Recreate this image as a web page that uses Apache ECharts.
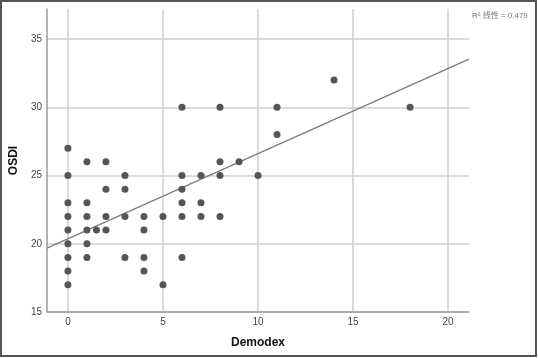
<!DOCTYPE html>
<html>
<head>
<meta charset="utf-8">
<script src="https://cdn.jsdelivr.net/npm/echarts@6/dist/echarts.min.js"></script>
<style>
  html, body { margin: 0; padding: 0; background: #fff; }
  #chart { width: 538px; height: 358px; }
</style>
</head>
<body>
<div id="chart"></div>
<script>
// Demodex count vs OSDI score, one entry per subject
const demodex = [
  0, 0, 0, 0, 0, 0, 0, 0, 0,
  1, 1, 1, 1, 1, 1,
  1.5,
  2, 2, 2, 2,
  3, 3, 3, 3,
  4, 4, 4, 4,
  5, 5,
  6, 6, 6, 6, 6, 6,
  7, 7, 7,
  8, 8, 8, 8,
  9, 10, 11, 11, 14, 18
]
const osdi = [
  27, 25, 23, 22, 21, 20, 19, 18, 17,
  26, 23, 22, 21, 20, 19,
  21,
  26, 24, 22, 21,
  25, 24, 22, 19,
  22, 21, 19, 18,
  22, 17,
  30, 25, 24, 23, 22, 19,
  25, 23, 22,
  30, 26, 25, 22,
  26, 25, 30, 28, 32, 30
]
// fitted line, read at the plot edges
const fitX = [-1.1, 21.1]
const fitY = [19.68, 33.53]

const xTicks = [0, 5, 10, 15, 20]
const yTicks = [15, 20, 25, 30, 35]
const r2Text = 'R² 线性 = 0.479'

const points = demodex.map((d, i) => [d, osdi[i]])
const fitLine = fitX.map((d, i) => [d, fitY[i]])

const chart = echarts.init(document.getElementById('chart'))

const tickLabel = { color: '#444', fontSize: 10, fontFamily: 'Liberation Sans, Arial, sans-serif' }
const nameStyle = { color: '#111', fontSize: 12, fontWeight: 'bold', fontFamily: 'Liberation Sans, Arial, sans-serif' }

chart.setOption({
  animation: false,
  grid: { left: 44, right: 69, top: 9, bottom: 46 },
  xAxis: {
    type: 'value',
    min: -1.1,
    max: 21.1,
    name: 'Demodex',
    nameLocation: 'middle',
    nameGap: 25,
    nameTextStyle: nameStyle,
    axisLine: { onZero: false, lineStyle: { color: '#9a9a9a', width: 1.5 } },
    axisTick: { show: false, customValues: xTicks },
    axisLabel: { ...tickLabel, margin: 5, customValues: xTicks },
    splitLine: { show: true, lineStyle: { color: '#cfcfcf', width: 1.5 } },
  },
  yAxis: {
    type: 'value',
    min: 15,
    max: 37.2,
    name: 'OSDI',
    nameLocation: 'middle',
    nameGap: 24,
    nameTextStyle: nameStyle,
    axisLine: { show: true, onZero: false, lineStyle: { color: '#9a9a9a', width: 1.5 } },
    axisTick: { show: false, customValues: yTicks },
    axisLabel: { ...tickLabel, margin: 5, customValues: yTicks },
    splitLine: { show: true, lineStyle: { color: '#cfcfcf', width: 1.5 } },
  },
  graphic: [
    {
      type: 'rect',
      silent: true,
      shape: { x: 1, y: 1, width: 535, height: 355 },
      style: { fill: 'none', stroke: '#555', lineWidth: 2 },
    },
    {
      type: 'text',
      left: 472,
      top: 12,
      style: { text: r2Text, fill: '#777', fontSize: 8, fontFamily: 'Liberation Sans, Noto Sans CJK SC, sans-serif' },
    },
  ],
  series: [
    {
      type: 'line',
      data: fitLine,
      showSymbol: false,
      silent: true,
      lineStyle: { color: '#7a7a7a', width: 1.2 },
      z: 2,
    },
    {
      type: 'scatter',
      data: points,
      symbolSize: 7,
      itemStyle: { color: '#555', opacity: 1 },
      z: 3,
    },
  ],
})
</script>
</body>
</html>
